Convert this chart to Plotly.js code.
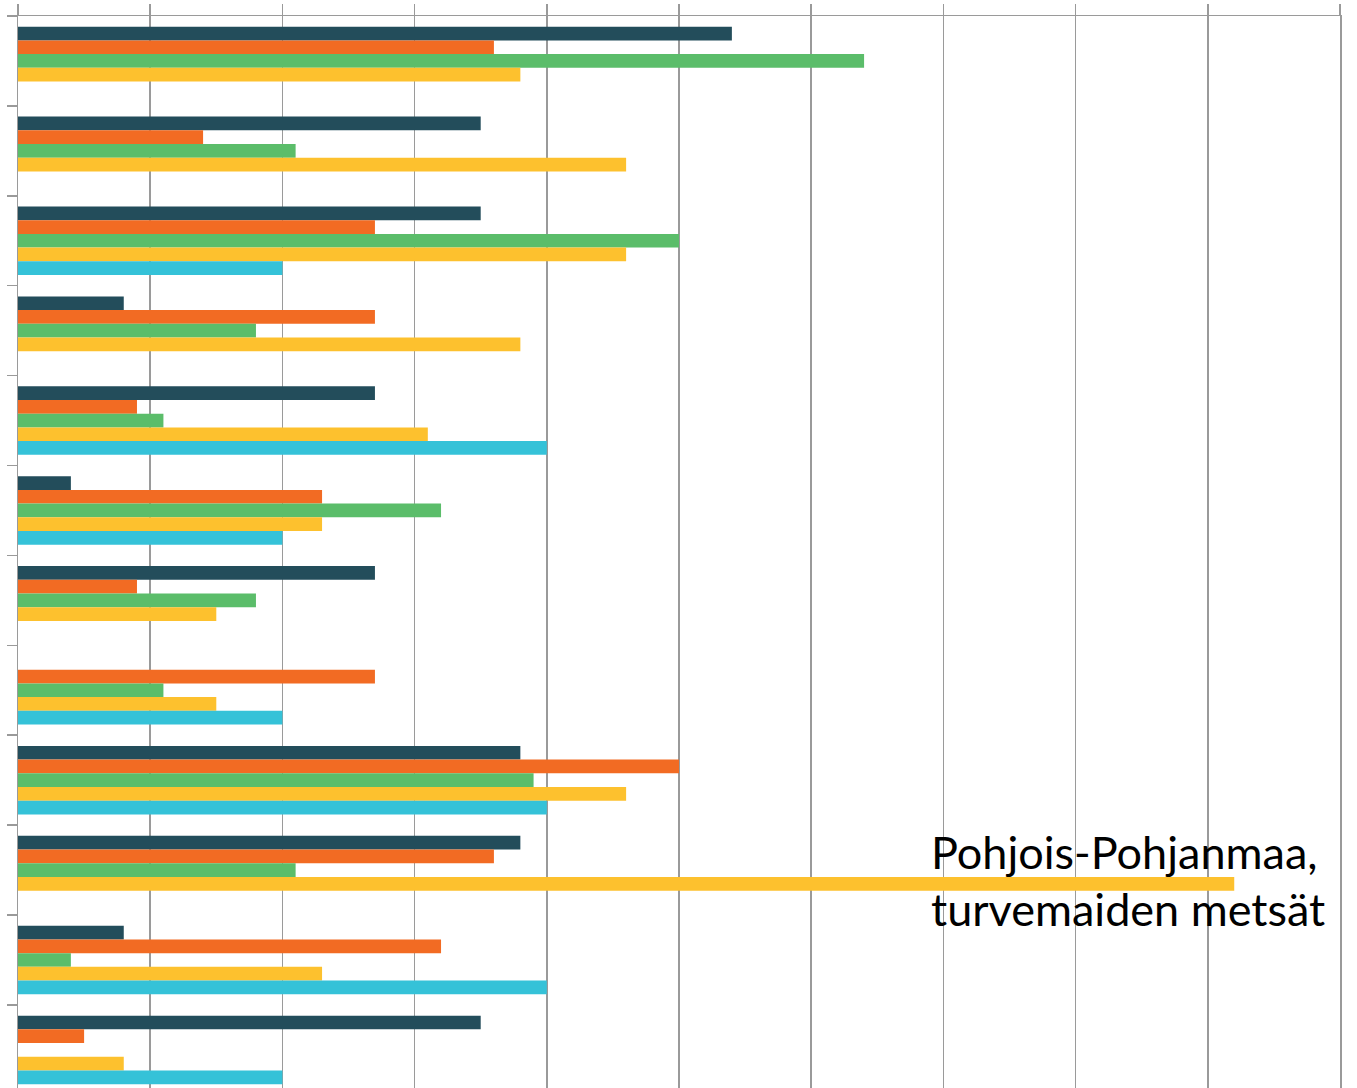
<!DOCTYPE html>
<html>
<head>
<meta charset="utf-8">
<script src="https://cdn.plot.ly/plotly-3.0.1.min.js"></script>
<style>
  html, body { margin: 0; padding: 0; background: #ffffff; overflow: hidden; }
  #chart { width: 1357px; height: 1088px; }
</style>
</head>
<body>
<div id="chart"></div>
<script>
// Categories (labels are not visible in the reference; placeholders)
const categories = ["Ryhmä 1","Ryhmä 2","Ryhmä 3","Ryhmä 4","Ryhmä 5","Ryhmä 6",
                    "Ryhmä 7","Ryhmä 8","Ryhmä 9","Ryhmä 10","Ryhmä 11","Ryhmä 12"];

// Series values (null = no bar)
const series1 = [54, 35, 35, 8, 27, 4, 27, null, 38, 38, 8, 35];
const series2 = [36, 14, 27, 27, 9, 23, 9, 27, 50, 36, 32, 5];
const series3 = [64, 21, 50, 18, 11, 32, 18, 11, 39, 21, 4, null];
const series4 = [38, 46, 46, 38, 31, 23, 15, 15, 46, 92, 23, 8];
const series5 = [null, null, 20, null, 40, 20, null, 20, 40, null, 40, 20];

const seriesNames = ["Sarja 1", "Sarja 2", "Sarja 3", "Sarja 4", "Sarja 5"];
const seriesColors = ["#234D5B", "#F26B23", "#5BBD6A", "#FDC12E", "#35C2D8"];
const annotationLines = ["Pohjois-Pohjanmaa,", "turvemaiden metsät"];

const allSeries = [series1, series2, series3, series4, series5];
const traces = allSeries.map((vals, i) => ({
  type: "bar",
  orientation: "h",
  name: seriesNames[i],
  x: vals,
  y: categories,
  marker: { color: seriesColors[i], line: { width: 0 } },
  hoverinfo: "x+name",
  showlegend: false
}));

const gridCol = "#9a9a9a";
const annFont = { family: "Lato", size: 45, color: "#000000" };
const layout = {
  width: 1357,
  height: 1088,
  margin: { l: 18, r: 17, t: 16, b: 0, pad: 0 },
  paper_bgcolor: "#ffffff",
  plot_bgcolor: "#ffffff",
  barmode: "group",
  bargap: 0.238,
  bargroupgap: 0,
  font: { family: "Lato, 'Open Sans', sans-serif", color: "#000000" },
  xaxis: {
    side: "top",
    range: [0, 100],
    dtick: 10,
    tick0: 0,
    showticklabels: false,
    ticks: "outside",
    ticklen: 11,
    tickwidth: 1.5,
    tickcolor: gridCol,
    showgrid: true,
    gridcolor: gridCol,
    gridwidth: 1.5,
    showline: true,
    linecolor: gridCol,
    linewidth: 1.5,
    zeroline: false,
    fixedrange: true
  },
  yaxis: {
    type: "category",
    range: [11.424, -0.5],
    showticklabels: false,
    tickson: "boundaries",
    ticks: "outside",
    ticklen: 10,
    tickwidth: 1.5,
    tickcolor: gridCol,
    showgrid: false,
    showline: true,
    mirror: true,
    linecolor: gridCol,
    linewidth: 1.5,
    zeroline: false,
    fixedrange: true
  },
  annotations: [
    {
      xref: "paper", yref: "paper",
      x: 0.6891, y: 1 - (852 - 16) / 1072,
      xanchor: "left", yanchor: "middle",
      text: annotationLines[0],
      showarrow: false,
      font: annFont
    },
    {
      xref: "paper", yref: "paper",
      x: 0.6891, y: 1 - (909 - 16) / 1072,
      xanchor: "left", yanchor: "middle",
      text: annotationLines[1],
      showarrow: false,
      font: annFont
    }
  ]
};

Plotly.newPlot("chart", traces, layout, { displayModeBar: false, staticPlot: true });
</script>
</body>
</html>
